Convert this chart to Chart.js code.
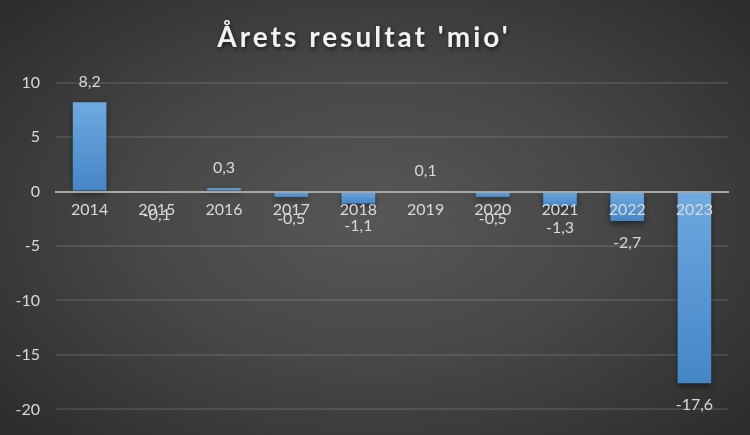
<!DOCTYPE html>
<html><head><meta charset="utf-8">
<script src="https://cdn.jsdelivr.net/npm/chart.js@4.4.0/dist/chart.umd.min.js"></script>
<style>
html,body{margin:0;padding:0;background:#262626;}
#wrap{width:750px;height:435px;position:relative;background:radial-gradient(ellipse 70% 75% at 50% 50%, #575757 0%, #474747 45%, #2a2a2a 100%);}
canvas{display:block;}
</style></head><body>
<div id="wrap"><canvas id="c" width="750" height="435"></canvas></div>
<script>
const categories = ['2014','2015','2016','2017','2018','2019','2020','2021','2022','2023'];
const values = [8.2, -0.1, 0.3, -0.5, -1.1, 0.1, -0.5, -1.3, -2.7, -17.6];
const yTicks = [10, 5, 0, -5, -10, -15, -20];
const chartTitle = "Årets resultat 'mio'";

const FONT = 'Lato, "Open Sans", sans-serif';

function barGradient(ctx) {
  const chart = ctx.chart;
  const y = chart.scales && chart.scales.y;
  if (!y || ctx.type !== 'data' || !chart.chartArea) return '#5b9bd5';
  const v = ctx.raw;
  const p0 = y.getPixelForValue(0), p1 = y.getPixelForValue(v);
  const top = Math.min(p0, p1), bot = Math.max(p0, p1);
  if (bot - top < 1) return '#5b9bd5';
  const g = chart.ctx.createLinearGradient(0, top, 0, bot);
  g.addColorStop(0, '#6ea9df');
  g.addColorStop(1, '#4586c8');
  return g;
}

const valueLabels = {
  id: 'valueLabels',
  beforeDraw(chart) {
    const tb = chart.titleBlock;
    if (tb && !tb._patched) {
      const orig = tb.draw;
      tb.draw = function () {
        const c = chart.ctx;
        c.save();
        c.letterSpacing = '3px';
        c.shadowColor = 'rgba(0,0,0,0.6)';
        c.shadowBlur = 4;
        c.shadowOffsetX = 1;
        c.shadowOffsetY = 2;
        orig.apply(this, arguments);
        c.restore();
      };
      tb._patched = true;
    }
  },
  beforeDatasetsDraw(chart) {
    const c = chart.ctx;
    c.save();
    c.shadowColor = 'rgba(0,0,0,0.45)';
    c.shadowBlur = 6;
    c.shadowOffsetY = 3;
  },
  afterDatasetsDraw(chart) {
    const c = chart.ctx;
    c.restore();
    const meta = chart.getDatasetMeta(0);
    c.save();
    c.font = '16px ' + FONT;
    c.fillStyle = '#d9d9d9';
    c.textAlign = 'center';
    c.textBaseline = 'middle';
    meta.data.forEach((bar, i) => {
      const v = values[i];
      const y = v >= 0 ? bar.y - 20 : bar.y + 22;
      c.fillText(v.toFixed(1).replace('.', ','), bar.x, y);
    });
    c.restore();
  }
};

new Chart(document.getElementById('c'), {
  type: 'bar',
  data: {
    labels: categories,
    datasets: [{
      data: values,
      backgroundColor: barGradient,
      borderWidth: 0,
      barPercentage: 0.5,
      categoryPercentage: 1.0
    }]
  },
  options: {
    responsive: false,
    animation: false,
    events: [],
    layout: { padding: { left: 0, right: 22, bottom: 20, top: 0 } },
    plugins: {
      legend: { display: false },
      tooltip: { enabled: false },
      title: {
        display: true,
        text: chartTitle,
        color: '#f2f2f2',
        font: { family: FONT, size: 28, weight: 'bold', lineHeight: 1.2 },
        padding: { top: 21, bottom: 28 }
      }
    },
    scales: {
      x: {
        position: { y: 0 },
        grid: { display: false, drawTicks: false },
        border: { display: true, color: '#a6a6a6', width: 2, z: 1 },
        ticks: { z: 1, color: '#d9d9d9', font: { family: FONT, size: 16 }, padding: 9, maxRotation: 0, autoSkip: false }
      },
      y: {
        min: -20, max: 10,
        afterFit(s) { s.width = 56; },
        afterBuildTicks(s) { s.ticks = yTicks.map(v => ({ value: v })); },
        grid: { color: (ctx) => ctx.tick && ctx.tick.value === 0 ? '#a6a6a6' : 'rgba(255,255,255,0.1)', lineWidth: 2, drawTicks: false },
        border: { display: false },
        ticks: { color: '#d9d9d9', font: { family: FONT, size: 16 }, padding: 16, callback: (v) => String(v) }
      }
    }
  },
  plugins: [valueLabels]
});
</script>
</body></html>
